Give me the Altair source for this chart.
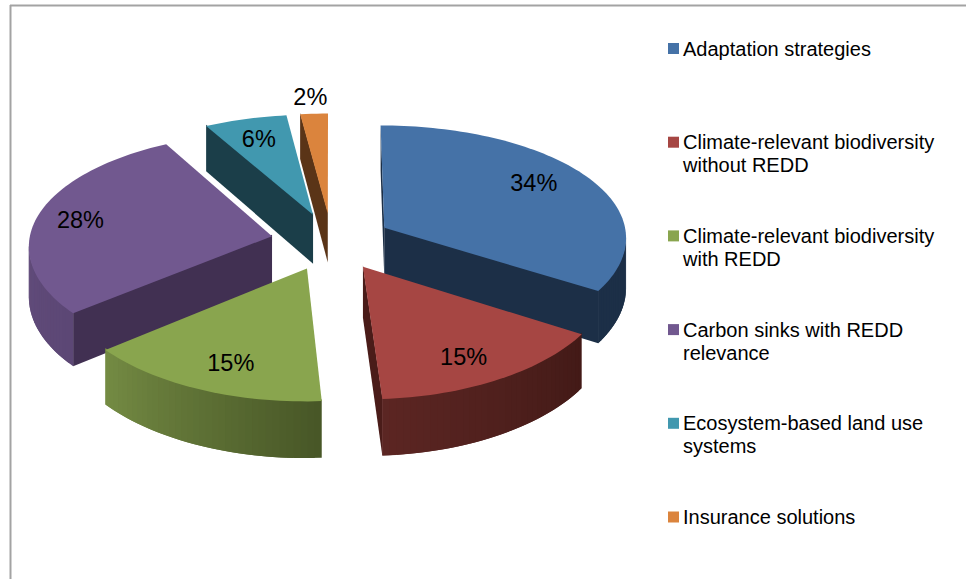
import numpy as np
import altair as alt

# Chart content
CATEGORIES = [
    "Adaptation strategies",
    "Climate-relevant biodiversity\nwithout REDD",
    "Climate-relevant biodiversity\nwith REDD",
    "Carbon sinks with REDD\nrelevance",
    "Ecosystem-based land use\nsystems",
    "Insurance solutions",
]
SHARES = [34, 15, 15, 28, 6, 2]

# Slice colours: top surface, cut faces, and the rim from first to last angle
TOP_COLORS = ["#4572A7", "#A64643", "#89A54E", "#71588F", "#4198AF", "#DB843D"]
CUT_COLORS = ["#1C2F47", "#4A1C19", "#4A5829", "#413052", "#1B3E49", "#5A3417"]
RIM_START = ["#1C2F47", "#431A17", "#485727", "#5C4775", "#1B3E49", "#5A3417"]
RIM_END = ["#1C2F47", "#5C2623", "#758C44", "#6A5385", "#1B3E49", "#5A3417"]

# Where each percentage sits: distance from the slice tip, position across its sweep
LABEL_RADIUS = [0.77, 0.796, 0.787, 0.815, 0.78, 1.19]
LABEL_SWEEP = [0.467, 0.54, 0.46, 0.493, 0.49, 0.46]

# Perspective of the tilted pie
CENTER_X, CENTER_Y = 331.5, 241.5
SCALE_X, SCALE_Y = 243.0, 114.7
TILT_X, TILT_Y = 0.075, 0.096
THICKNESS = 50.0
EXPLODE = 0.25
DRAW_ORDER = [4, 5, 0, 3, 2, 1]
ARC_STEP_DEG = 1.5
TUCK = -1.5  # sides start slightly under the top surface so no seam shows


def project(px, py, drop=0.0):
    w = 1 - TILT_Y * py
    return [
        CENTER_X + SCALE_X * px / (1 - TILT_X * py),
        CENTER_Y + SCALE_Y * py / w + drop / w,
    ]


def rim_point(tip, deg, radius=1.0):
    rad = np.radians(deg)
    return (tip[0] + radius * np.sin(rad), tip[1] - radius * np.cos(rad))


def mix(c0, c1, t):
    a = [int(c0[i:i + 2], 16) for i in (1, 3, 5)]
    b = [int(c1[i:i + 2], 16) for i in (1, 3, 5)]
    return "#" + "".join(f"{round(p + (q - p) * t):02x}" for p, q in zip(a, b))


def face(points, color):
    ring = [[float(x), float(y)] for x, y in points] + [[float(points[0][0]), float(points[0][1])]]
    return {
        "type": "Feature",
        "geometry": {"type": "Polygon", "coordinates": [ring]},
        "properties": {"fill": color},
    }


edges = np.cumsum([0] + SHARES) / sum(SHARES) * 360.0
tips = []
for i in range(len(SHARES)):
    mid = (edges[i] + edges[i + 1]) / 2
    tips.append(rim_point((0.0, 0.0), mid, EXPLODE))

faces = []
for i in DRAW_ORDER:
    a0, a1 = edges[i], edges[i + 1]
    steps = max(2, int(np.ceil((a1 - a0) / ARC_STEP_DEG)))
    angles = np.linspace(a0, a1, steps + 1)
    tip = tips[i]
    plane = [rim_point(tip, a) for a in angles]
    tip_top = project(*tip)
    top = [project(*p) for p in plane]

    # Only the sides that run right-to-left along the clockwise outline face the viewer
    if top[0][0] < tip_top[0]:
        faces.append(face([project(*tip, TUCK), project(*plane[0], TUCK), project(*plane[0], THICKNESS), project(*tip, THICKNESS)], CUT_COLORS[i]))
    if tip_top[0] < top[-1][0]:
        faces.append(face([project(*plane[-1], TUCK), project(*tip, TUCK), project(*tip, THICKNESS), project(*plane[-1], THICKNESS)], CUT_COLORS[i]))
    # Each rim strip reaches into the next one, which paints over the overlap
    for s in range(steps):
        if top[s + 1][0] < top[s][0]:
            e = min(s + 2, steps) if top[min(s + 2, steps)][0] < top[s + 1][0] else s + 1
            shade = mix(RIM_START[i], RIM_END[i], s / steps)
            faces.append(face([project(*plane[s], TUCK), project(*plane[e], TUCK), project(*plane[e], THICKNESS), project(*plane[s], THICKNESS)], shade))
    faces.append(face([tip_top] + top, TOP_COLORS[i]))

label_rows = []
for i, share in enumerate(SHARES):
    deg = edges[i] + LABEL_SWEEP[i] * (edges[i + 1] - edges[i])
    lon, lat = project(*rim_point(tips[i], deg, LABEL_RADIUS[i]))
    label_rows.append({"label": f"{share}%", "lon": lon, "lat": lat})

legend_rows = [{"name": n, "swatch": c} for n, c in zip(CATEGORIES, TOP_COLORS)]

FONT = "Liberation Sans"
FRAME = "#A3A3A3"
identity = dict(type="identity", scale=1, translate=[0, 0])

frame_top = alt.Chart(alt.Data(values=[{}])).mark_rule(color=FRAME, strokeWidth=2).encode(
    x=alt.value(10), x2=alt.value(966), y=alt.value(5.5)
)
frame_left = alt.Chart(alt.Data(values=[{}])).mark_rule(color=FRAME, strokeWidth=2).encode(
    x=alt.value(10.5), y=alt.value(5), y2=alt.value(579)
)

pie = alt.Chart(alt.Data(values=faces)).mark_geoshape(strokeWidth=0).encode(
    fill=alt.Fill("properties.fill:N", scale=None),
).project(**identity)

pie_labels = alt.Chart(alt.Data(values=label_rows)).mark_text(
    font=FONT, fontSize=23.5, color="black", align="center", baseline="middle", dy=1
).encode(
    longitude="lon:Q", latitude="lat:Q", text="label:N"
).project(**identity)

legend_y = alt.Y(
    "name:N",
    sort=None,
    axis=None,
    scale=alt.Scale(domain=CATEGORIES, range=[48.5, 517], padding=0),
)

swatches = alt.Chart(alt.Data(values=legend_rows)).mark_square(size=121, opacity=1).encode(
    x=alt.value(673.5),
    y=legend_y,
    fill=alt.Fill("swatch:N", scale=None),
)

legend_text = alt.Chart(alt.Data(values=legend_rows)).mark_text(
    font=FONT, fontSize=20, color="black", align="left", baseline="alphabetic", lineBreak="\n", lineHeight=23, dy=7
).encode(
    x=alt.value(683),
    y=legend_y,
    text="name:N",
)

chart = (
    alt.layer(frame_top, frame_left, pie, pie_labels, swatches, legend_text)
    .properties(width=966, height=579, padding=0, background="white", autosize=alt.AutoSizeParams(type="none"))
    .configure_view(stroke=None)
)

chart.save("out.html", embed_options={"renderer": "svg", "actions": False})
